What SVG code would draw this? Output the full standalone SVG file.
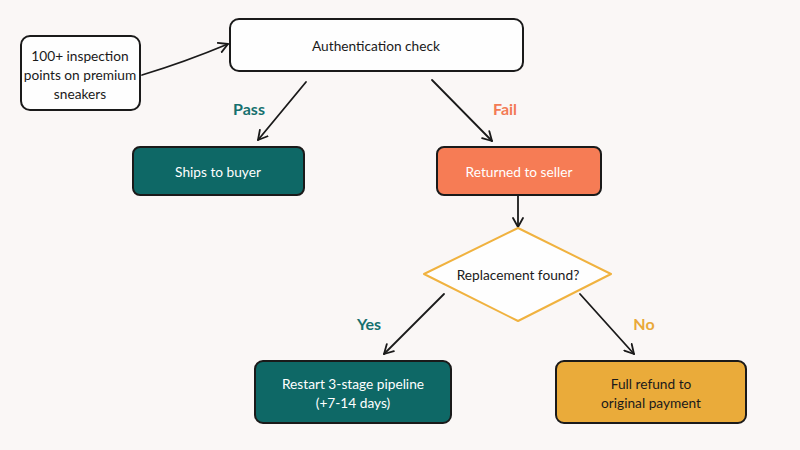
<svg xmlns="http://www.w3.org/2000/svg" width="800" height="450" viewBox="0 0 800 450">
<defs>
<marker id="ah" viewBox="0 0 12 12" refX="10" refY="6" markerWidth="12" markerHeight="12" markerUnits="userSpaceOnUse" orient="auto">
<path d="M1,1 L10,6 L1,11" fill="none" stroke="#1a1a1a" stroke-width="1.8" stroke-linecap="round" stroke-linejoin="round"/>
</marker>
<style>
.box{stroke:#1a1a1a;stroke-width:2}
.w{fill:#fefefe}
.t{font-family:Lato,"Open Sans","Noto Sans",sans-serif;font-size:13.7px;text-anchor:middle;dominant-baseline:central}
.dk{fill:#1a1a1a}
.lt{fill:#ffffff}
.lbl{font-family:Lato,"Open Sans",sans-serif;font-size:16px;font-weight:bold;text-anchor:middle;dominant-baseline:central}
.c{fill:none;stroke:#1a1a1a;stroke-width:1.8;stroke-linecap:round;marker-end:url(#ah)}
</style>
</defs>
<rect width="800" height="450" fill="#faf7f6"/>
<g id="connectors">
<path class="c" d="M142,75 Q185,62 228,44"/>
<path class="c" d="M306,82 L258,140"/>
<path class="c" d="M432,80 L492,141"/>
<path class="c" d="M518,196 L518,227"/>
<path class="c" d="M444,294 L384,354"/>
<path class="c" d="M580,294 L634,354"/>
</g>
<g id="labels">
<text class="lbl" x="249" y="108" fill="#16706e">Pass</text>
<text class="lbl" x="505" y="108" fill="#f37b55">Fail</text>
<text class="lbl" x="369" y="323" fill="#16706e">Yes</text>
<text class="lbl" x="644" y="323" fill="#e9a93a">No</text>
</g>
<g id="source">
<rect class="box w" x="21" y="36" width="119" height="74" rx="9"/>
<text class="t dk" x="80" y="55">100+ inspection</text>
<text class="t dk" x="80" y="74">points on premium</text>
<text class="t dk" x="80" y="93">sneakers</text>
</g>
<g id="auth">
<rect class="box w" x="230" y="19" width="293" height="52" rx="9"/>
<text class="t dk" x="376" y="45">Authentication check</text>
</g>
<g id="ships">
<rect class="box" x="133" y="147" width="171" height="48" rx="7" fill="#0e6866"/>
<text class="t lt" x="218" y="171">Ships to buyer</text>
</g>
<g id="returned">
<rect class="box" x="437" y="147" width="164" height="48" rx="7" fill="#f67c55"/>
<text class="t lt" x="519" y="171">Returned to seller</text>
</g>
<g id="decision">
<path d="M518,228 L611,274 L518,321 L424,274 Z" fill="#fefefe" stroke="#f0b23f" stroke-width="2" stroke-linejoin="round"/>
<text class="t dk" x="518" y="274">Replacement found?</text>
</g>
<g id="restart">
<rect class="box" x="255" y="361" width="196" height="62" rx="8" fill="#0e6866"/>
<text class="t lt" x="353" y="383">Restart 3-stage pipeline</text>
<text class="t lt" x="353" y="402">(+7-14 days)</text>
</g>
<g id="refund">
<rect class="box" x="556" y="361" width="190" height="62" rx="8" fill="#eaab3a"/>
<text class="t dk" x="651" y="383">Full refund to</text>
<text class="t dk" x="651" y="402">original payment</text>
</g>
</svg>
